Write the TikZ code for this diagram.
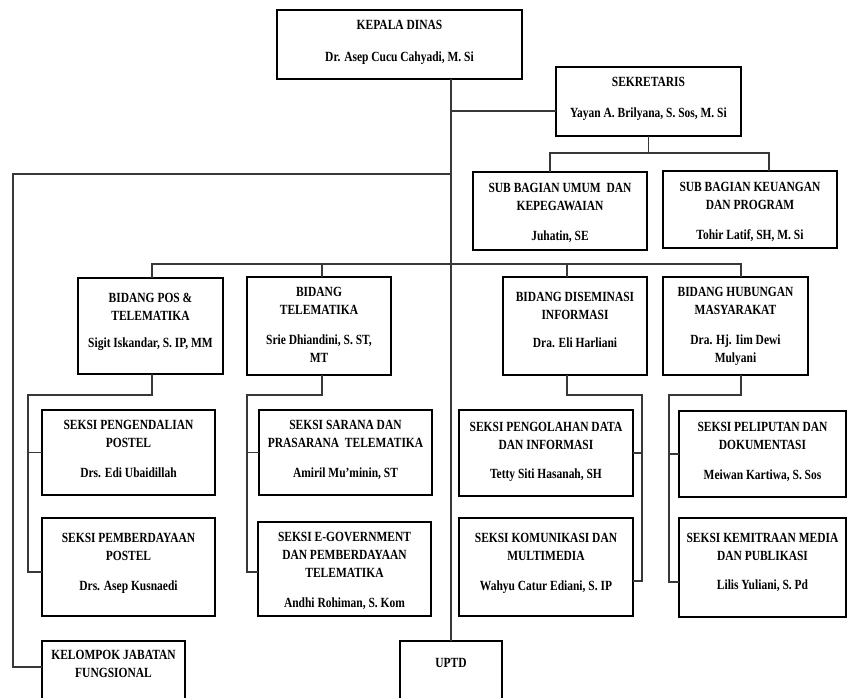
\documentclass[tikz,border=0pt]{standalone}
\usepackage{fontspec}
\setmainfont{Liberation Serif}[FakeStretch=0.82]
\begin{document}
\begin{tikzpicture}[x=1pt,y=-1pt,
  box/.style={draw=black,line width=2.6pt,inner sep=0pt,outer sep=0pt,rectangle},
  txt/.style={font=\bfseries\fontsize{14}{18}\selectfont,align=center,inner sep=0pt,anchor=north,text=black},
  conn/.style={draw=black!78,line width=1.3pt}]
\useasboundingbox (0,0) rectangle (849,697);

% boxes
\node[box,minimum width=245,minimum height=69] (kd) at (399.5,44.5) {};
\node[box,minimum width=185,minimum height=69] (sek) at (648.5,101.5) {};
\node[box,minimum width=174,minimum height=78] (subu) at (560,211) {};
\node[box,minimum width=174,minimum height=77] (subk) at (750,209.5) {};
\node[box,minimum width=145,minimum height=96] (bpos) at (150.5,326) {};
\node[box,minimum width=144,minimum height=98] (btel) at (319,326) {};
\node[box,minimum width=144,minimum height=98] (bdis) at (575,326) {};
\node[box,minimum width=145,minimum height=98] (bhum) at (735.5,326) {};
\node[box,minimum width=173,minimum height=85] (spp) at (128.5,452.5) {};
\node[box,minimum width=173,minimum height=98] (spem) at (128.5,567) {};
\node[box,minimum width=173,minimum height=85] (ssar) at (345.5,452.5) {};
\node[box,minimum width=173,minimum height=94] (segov) at (344.5,569) {};
\node[box,minimum width=174,minimum height=86] (spdi) at (546,453) {};
\node[box,minimum width=174,minimum height=98] (skom) at (546,567) {};
\node[box,minimum width=167,minimum height=86] (spel) at (762.5,454) {};
\node[box,minimum width=167,minimum height=99] (skem) at (762.5,567.5) {};
\node[box,minimum width=143,minimum height=64] (kjf) at (113.5,673) {};
\node[box,minimum width=102,minimum height=64] (uptd) at (451,673) {};

% texts
\node[txt] (kdt) at (399.5,20.5) {KEPALA DINAS\\[14pt]Dr. Asep Cucu Cahyadi, M. Si};
\node[txt] (sekt) at (648.5,77.5) {SEKRETARIS\\[13pt]Yayan A. Brilyana, S. Sos, M. Si};
\node[txt] (subut) at (560,183.5) {SUB BAGIAN UMUM~ DAN\\KEPEGAWAIAN\\[12pt]Juhatin, SE};
\node[txt] (subkt) at (750,182.5) {SUB BAGIAN KEUANGAN\\DAN PROGRAM\\[12pt]Tohir Latif, SH, M. Si};
\node[txt] (bpost) at (150.5,292.5) {BIDANG POS \&\\TELEMATIKA\\[9pt]Sigit Iskandar, S. IP, MM};
\node[txt] (btelt) at (319,287.5) {BIDANG\\TELEMATIKA\\[12pt]Srie Dhiandini, S. ST,\\MT};
\node[txt] (bdist) at (575,292.5) {BIDANG DISEMINASI\\INFORMASI\\[10pt]Dra. Eli Harliani};
\node[txt] (bhumt) at (735.5,287.5) {BIDANG HUBUNGAN\\MASYARAKAT\\[12pt]Dra. Hj. Iim Dewi\\Mulyani};
\node[txt] (sppt) at (128.5,420.5) {SEKSI PENGENDALIAN\\POSTEL\\[12pt]Drs. Edi Ubaidillah};
\node[txt] (spemt) at (128.5,533.5) {SEKSI PEMBERDAYAAN\\POSTEL\\[12pt]Drs. Asep Kusnaedi};
\node[txt] (ssart) at (345.5,420.5) {SEKSI SARANA DAN\\PRASARANA~ TELEMATIKA\\[12pt]Amiril Mu’minin, ST};
\node[txt] (segovt) at (344.5,532.5) {SEKSI E-GOVERNMENT\\DAN PEMBERDAYAAN\\TELEMATIKA\\[12pt]Andhi Rohiman, S. Kom};
\node[txt] (spdit) at (546,422.5) {SEKSI PENGOLAHAN DATA\\DAN INFORMASI\\[11pt]Tetty Siti Hasanah, SH};
\node[txt] (skomt) at (546,533.5) {SEKSI KOMUNIKASI DAN\\MULTIMEDIA\\[12pt]Wahyu Catur Ediani, S. IP};
\node[txt] (spelt) at (762.5,422.5) {SEKSI PELIPUTAN DAN\\DOKUMENTASI\\[12pt]Meiwan Kartiwa, S. Sos};
\node[txt] (skemt) at (762.5,533.5) {SEKSI KEMITRAAN MEDIA\\DAN PUBLIKASI\\[11pt]Lilis Yuliani, S. Pd};
\node[txt] (kjft) at (113.5,650.5) {KELOMPOK JABATAN\\FUNGSIONAL};
\node[txt] (uptdt) at (451,658.5) {UPTD};

% junction coordinates
\coordinate (js) at (451,111);
\coordinate (su1) at (550,153);
\coordinate (su2) at (769,153);
\coordinate (l1) at (13,174);
\coordinate (l2) at (13,667);
\coordinate (b1) at (152,264);
\coordinate (b2) at (322,264);
\coordinate (b3) at (567,264);
\coordinate (b4) at (741,264);
\coordinate (p1) at (28,395);
\coordinate (p2) at (28,572);
\coordinate (t1) at (247,395);
\coordinate (t2) at (247,572);
\coordinate (d1) at (642,395);
\coordinate (d2) at (642,581);
\coordinate (h1) at (669,395);
\coordinate (h2) at (669,582);

% connectors
\draw[conn] (kd.south -| uptd.north) -- (uptd.north);
\draw[conn] (js) -- (js -| sek.west);
\draw[conn] (sek.south) -- (sek.south |- su1);
\draw[conn] (subu.north -| su1) -- (su1) -- (su2) -- (subk.north -| su2);
\draw[conn] (l1 -| uptd.north) -- (l1) -- (l2) -- (l2 -| kjf.west);
\draw[conn] (bpos.north -| b1) -- (b1) -- (b4) -- (bhum.north -| b4);
\draw[conn] (b2) -- (btel.north -| b2);
\draw[conn] (b3) -- (bdis.north -| b3);
\draw[conn] (bpos.south -| b1) |- (p1) -- (p2) -- (p2 -| spem.west);
\draw[conn] (p1 |- spp.west) -- (spp.west);
\draw[conn] (btel.south -| b2) |- (t1) -- (t2) -- (t2 -| segov.west);
\draw[conn] (t1 |- ssar.west) -- (ssar.west);
\draw[conn] (bdis.south -| b3) |- (d1) -- (d2) -- (d2 -| skom.east);
\draw[conn] (d1 |- spdi.east) -- (spdi.east);
\draw[conn] (bhum.south -| b4) |- (h1) -- (h2) -- (h2 -| skem.west);
\draw[conn] (h1 |- spel.west) -- (spel.west);
\end{tikzpicture}
\end{document}
